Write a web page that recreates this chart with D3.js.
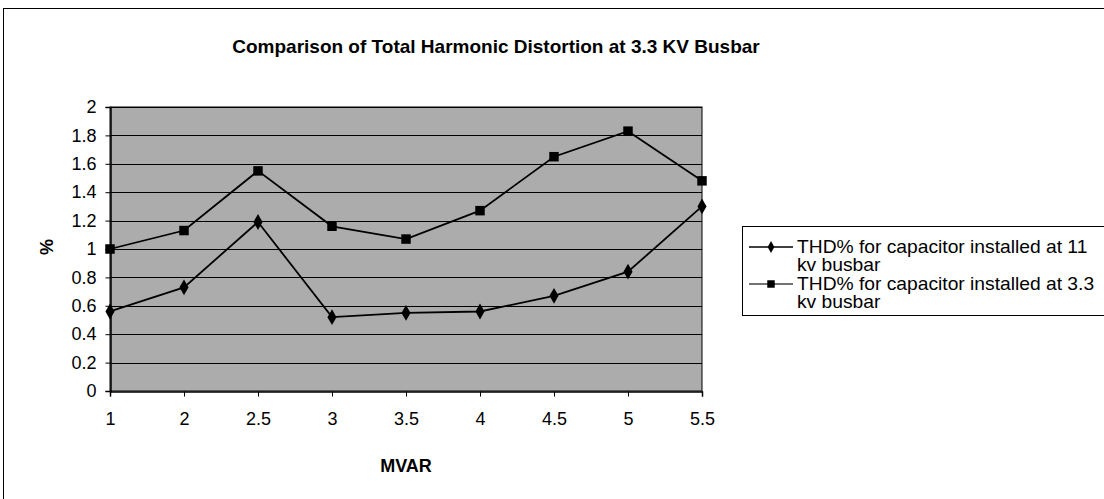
<!DOCTYPE html>
<html><head><meta charset="utf-8">
<script src="https://cdn.jsdelivr.net/npm/d3@7"></script>
<style>
html,body{margin:0;padding:0;background:#fff;}
svg{display:block;font-family:Arial,"Liberation Sans",sans-serif;}
</style></head>
<body>
<svg id="chart" width="1104" height="499"></svg>
<script>
const categories = ["1","2","2.5","3","3.5","4","4.5","5","5.5"];
const thd11kv  = [0.56, 0.73, 1.19, 0.52, 0.55, 0.56, 0.67, 0.84, 1.30];
const thd33kv  = [1.00, 1.13, 1.55, 1.16, 1.07, 1.27, 1.65, 1.83, 1.48];
const yTicks   = [0, 0.2, 0.4, 0.6, 0.8, 1, 1.2, 1.4, 1.6, 1.8, 2];
const legendLines = [["THD% for capacitor installed at 11","kv busbar"],
                     ["THD% for capacitor installed at 3.3","kv busbar"]];

const svg = d3.select("#chart");
const L = 110, R = 702, T = 107, B = 391;

// outer chart border
svg.append("rect").attr("x",3.5).attr("y",8.5).attr("width",1110).attr("height",500)
  .attr("fill","none").attr("stroke","#000").attr("stroke-width",1);

// title
svg.append("text").attr("x",496).attr("y",53).attr("text-anchor","middle")
  .attr("font-size",19).attr("font-weight","bold").attr("fill","#000")
  .text("Comparison of Total Harmonic Distortion at 3.3 KV Busbar");

const x = d3.scalePoint().domain(categories).range([L,R]).padding(0);
const y = d3.scaleLinear().domain([0,2]).range([B,T]);

// plot area
svg.append("rect").attr("x",L).attr("y",T).attr("width",R-L).attr("height",B-T)
  .attr("fill","#acacac").attr("stroke","#000").attr("stroke-width",1);

// gridlines
svg.append("g").selectAll("line").data(yTicks.filter(d=>d>0)).join("line")
  .attr("x1",L).attr("x2",R).attr("y1",d=>Math.round(y(d))+0.5).attr("y2",d=>Math.round(y(d))+0.5)
  .attr("stroke","#000").attr("stroke-width",1);

// y axis
const yAxis = svg.append("g").attr("transform",`translate(${L+0.5},0)`)
  .call(d3.axisLeft(y).tickValues(yTicks).tickSize(5).tickPadding(9).tickFormat(d=>d3.format("")(d)));
yAxis.attr("font-size",18);
yAxis.select(".domain").attr("stroke","#000").attr("stroke-width",1.5);
yAxis.selectAll(".tick line").attr("stroke","#000");
yAxis.selectAll(".tick text").style("font-size","18px").attr("fill","#000");

// x axis
const xAxis = svg.append("g").attr("transform",`translate(0,${B+0.5})`)
  .call(d3.axisBottom(x).tickSize(5).tickPadding(16));
xAxis.attr("font-size",18);
xAxis.select(".domain").attr("stroke","#000").attr("stroke-width",1.5);
xAxis.selectAll(".tick line").attr("stroke","#000");
xAxis.selectAll(".tick text").style("font-size","18px").attr("fill","#000");

// axis titles
svg.append("text").attr("transform","translate(53,247) rotate(-90)").attr("text-anchor","middle")
  .attr("font-size",18).attr("font-weight","bold").text("%");
svg.append("text").attr("x",406).attr("y",472).attr("text-anchor","middle")
  .attr("font-size",18).attr("font-weight","bold").text("MVAR");

const line = d3.line().x((d,i)=>x(categories[i])).y(d=>y(d));
const series = [thd11kv, thd33kv];
const diamond = d3.symbol().type(d3.symbolDiamond).size(72);
const square = d3.symbol().type(d3.symbolSquare).size(90);
const syms = [diamond, square];

series.forEach((s,k)=>{
  svg.append("path").datum(s).attr("d",line).attr("fill","none").attr("stroke","#000").attr("stroke-width",1.8);
  svg.append("g").selectAll("path").data(s).join("path")
    .attr("transform",(d,i)=>`translate(${x(categories[i])},${y(d)})`)
    .attr("d",syms[k]()).attr("fill","#000");
});

// legend
const lg = svg.append("g");
lg.append("rect").attr("x",742.5).attr("y",226.5).attr("width",400).attr("height",89)
  .attr("fill","#fff").attr("stroke","#000").attr("stroke-width",1);
const legY = [247, 284];
const diamondL = d3.symbol().type(d3.symbolDiamond).size(40);
const squareL = d3.symbol().type(d3.symbolSquare).size(56);
const symsL = [diamondL, squareL];
legendLines.forEach((lines,k)=>{
  lg.append("line").attr("x1",749).attr("x2",793).attr("y1",legY[k]).attr("y2",legY[k])
    .attr("stroke", k===0?"#000":"#444").attr("stroke-width",1.5);
  lg.append("path").attr("transform",`translate(771,${legY[k]})`).attr("d",symsL[k]()).attr("fill","#000");
  lines.forEach((t,j)=>{
    lg.append("text").attr("transform",`translate(797,${legY[k]+6+j*18}) scale(1.1,1)`)
      .attr("font-size",17.5).attr("fill","#000").text(t);
  });
});
</script>
</body></html>
